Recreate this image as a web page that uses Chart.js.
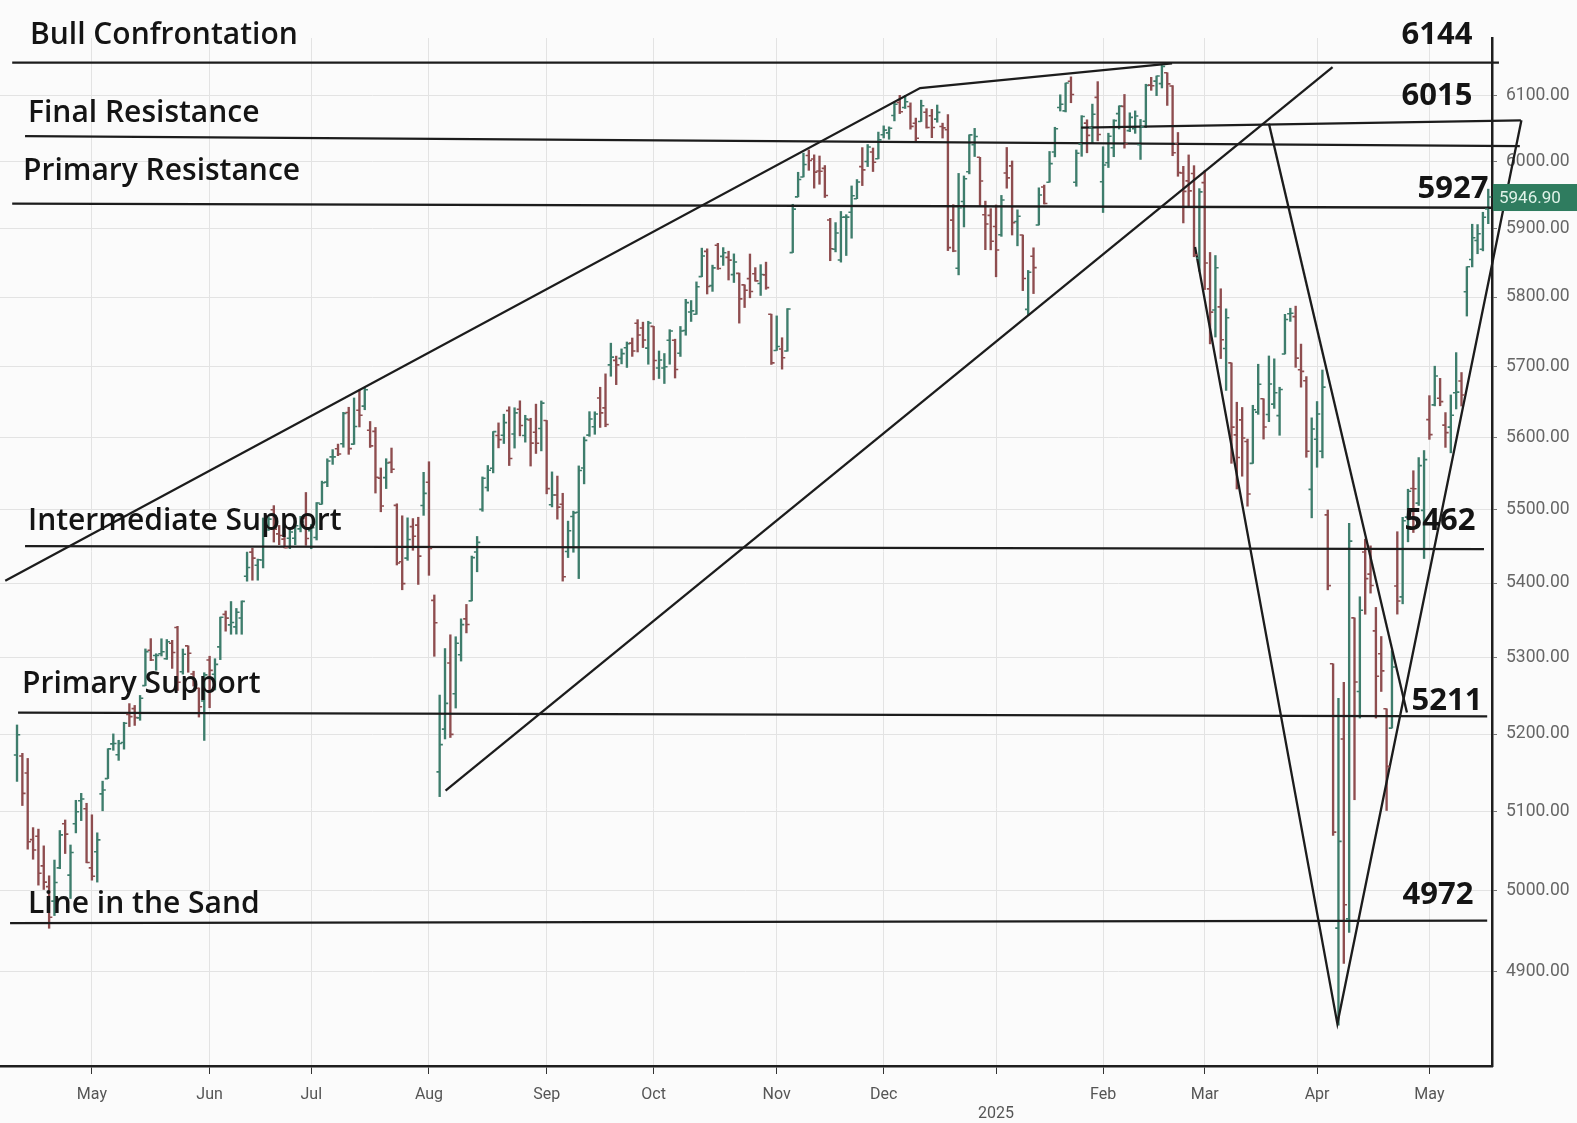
<!DOCTYPE html>
<html>
<head>
<meta charset="utf-8">
<script src="https://cdn.jsdelivr.net/npm/chart.js@4.4.1/dist/chart.umd.min.js"></script>
<style>
  html, body { margin: 0; padding: 0; background: #fbfbfb; }
  canvas { display: block; }
</style>
</head>
<body>
<canvas id="chart" width="1577" height="1123"></canvas>
<script>
// S&P 500 daily bars, 11 Apr 2024 -> 16 May 2025 (one entry per trading day)
const opens = [
  5172.9,5171.5,5149.7,5064.6,5068.9,5031.5,5005.4,4987.3,5028.9,5084.7,5019.9,5084.7,5114.1,5103.8,
  5029.0,5049.3,5122.8,5142.4,5187.2,5173.2,5189.0,5225.5,5233.1,5221.1,5263.3,5310.1,5303.1,5305.4,5298.7,5319.3,5340.3,5281.5,5315.9,5278.7,5259.8,5243.2,
  5297.2,5278.2,5314.5,5357.8,5343.8,5341.2,5353.0,5409.1,5441.9,5424.1,5431.1,5476.1,5499.9,5466.8,5459.6,5460.7,5460.7,5473.6,5488.5,
  5471.1,5461.8,5507.4,5537.9,5572.9,5584.2,5591.3,5635.2,5590.8,5638.2,5644.1,5610.1,5608.6,5543.4,5544.2,5565.3,5505.8,5428.7,5433.7,5476.6,5478.7,5505.6,
  5537.8,5376.6,5151.1,5206.4,5293.1,5252.6,5304.0,5351.9,5376.0,5442.0,5500.3,5530.5,5557.2,5602.9,5603.1,5637.8,5605.0,5639.7,5602.9,5624.5,5607.3,5612.7,
  5623.9,5506.7,5520.1,5507.3,5442.7,5490.5,5496.4,5557.5,5603.3,5615.1,5655.5,5641.7,5702.6,5709.0,5711.9,5727.0,5733.6,5762.2,5755.4,5726.5,
  5757.7,5698.2,5698.2,5737.8,5737.8,5719.1,5751.8,5778.4,5775.1,5829.8,5866.7,5816.6,5875.6,5859.4,5857.8,5832.7,5834.5,5817.8,5826.8,5833.9,5819.7,5832.3,5775.3,
  5723.2,5725.2,5722.4,5864.9,5947.1,5976.8,6008.9,6003.6,5985.8,5989.6,5912.8,5869.8,5854.1,5917.1,5924.4,5944.4,5992.3,6000.0,6014.1,6004.0,
  6040.1,6043.0,6069.4,6089.0,6081.4,6083.0,6057.6,6060.2,6074.3,6068.9,6063.8,6052.6,6047.7,5912.7,5842.0,5940.3,5984.6,6025.0,6006.2,5920.7,5919.7,
  5903.3,5891.1,5982.8,5993.3,5910.7,5890.7,5782.3,5859.6,5905.4,5961.8,5969.0,6014.1,6081.4,6076.3,6121.4,5969.0,6026.0,6057.7,6050.8,6096.8,
  5969.7,5998.1,6020.5,6072.2,6083.1,6046.4,6049.3,6025.1,6060.6,6115.5,6121.6,6117.8,6134.5,6114.1,6026.7,5982.7,5970.9,5981.9,5856.7,
  5968.3,5812.0,5781.4,5785.9,5726.0,5705.4,5603.7,5624.8,5594.5,5563.9,5635.6,5654.5,5632.4,5646.9,5630.7,5718.1,5775.9,5771.7,5695.6,5679.9,5527.9,
  5597.5,5580.8,5492.7,5292.1,4953.8,5193.6,4965.3,5353.2,5255.6,5442.0,5412.0,5335.8,5305.4,5232.9,5207.7,5395.9,5381.4,5489.7,5529.0,5508.9,5499.0,
  5625.1,5645.9,5655.3,5617.4,5614.5,5662.9,5679.6,5807.7,5854.8,5882.6,5869.8,5929.1
];
const highs = [
  5211.8,5175.0,5168.4,5079.8,5077.9,5056.7,5019.0,5038.8,5076.1,5089.5,5057.8,5114.6,5123.5,5110.8,
  5096.1,5073.2,5139.1,5181.0,5200.2,5191.9,5215.3,5239.7,5237.3,5250.4,5311.8,5325.5,5305.4,5325.3,5324.3,5323.2,5341.9,5311.7,5315.9,5282.3,5260.2,5280.3,
  5302.1,5298.8,5354.2,5362.4,5375.1,5365.8,5375.9,5441.9,5447.2,5432.4,5488.5,5490.4,5505.5,5478.3,5490.7,5472.9,5483.1,5490.8,5523.6,
  5479.6,5509.7,5539.3,5570.3,5583.1,5590.8,5635.4,5642.5,5655.6,5666.9,5669.7,5622.5,5614.1,5557.5,5570.4,5585.3,5508.0,5491.5,5488.7,5487.7,5489.5,5551.5,
  5566.2,5383.9,5250.9,5312.3,5330.6,5328.0,5351.9,5371.2,5436.5,5463.2,5545.1,5561.0,5608.3,5620.5,5632.7,5643.2,5641.8,5651.6,5631.2,5627.0,5646.9,5651.4,
  5623.9,5552.1,5546.3,5522.5,5484.2,5497.9,5560.4,5600.7,5636.3,5636.1,5670.8,5689.8,5733.6,5715.1,5725.4,5735.3,5741.0,5767.4,5763.8,5765.1,
  5757.7,5722.4,5718.8,5753.0,5739.3,5757.6,5796.8,5795.0,5822.1,5871.4,5870.4,5846.5,5878.5,5872.2,5866.9,5863.0,5834.9,5817.8,5862.8,5842.9,5847.2,5850.9,5775.3,
  5772.8,5741.4,5783.4,5936.1,5983.8,6012.5,6017.3,6009.9,6008.2,5993.9,5915.3,5909.0,5925.5,5920.7,5963.4,5972.9,6020.8,6025.4,6020.2,6044.2,
  6053.6,6052.1,6089.8,6100.0,6099.9,6088.5,6065.4,6092.6,6079.7,6078.6,6085.2,6057.7,6070.7,5935.5,5982.1,5978.3,6040.1,6049.8,6006.2,5940.8,5929.7,
  5935.1,5949.3,6021.0,6000.7,5927.9,5890.7,5838.8,5871.9,5960.6,5964.7,6015.0,6051.5,6100.8,6118.7,6128.2,6017.2,6069.1,6062.8,6086.6,6120.9,
  6022.1,6042.5,6062.9,6084.0,6101.3,6073.4,6076.3,6063.4,6116.9,6127.5,6129.6,6147.4,6134.5,6114.8,6043.6,5992.7,6009.8,5993.7,5959.4,
  5986.1,5865.1,5860.6,5812.1,5783.0,5705.4,5649.6,5642.2,5597.8,5645.3,5703.5,5654.5,5715.3,5711.2,5670.8,5775.1,5783.9,5786.9,5732.3,5685.9,5627.6,
  5650.6,5695.3,5499.5,5292.1,5246.6,5267.5,5481.3,5353.2,5381.5,5459.5,5450.4,5367.2,5328.3,5232.9,5309.6,5469.7,5489.4,5528.1,5553.7,5572.0,5581.8,
  5658.9,5700.7,5683.4,5635.0,5659.9,5720.1,5691.7,5844.2,5906.6,5906.1,5924.3,5958.6
];
const lows = [
  5138.8,5107.9,5052.5,5039.8,5007.3,5001.9,4953.6,4969.4,5027.9,5047.0,4990.6,5073.1,5088.7,5035.3,
  5013.5,5011.1,5101.2,5142.4,5178.9,5165.9,5180.4,5209.7,5211.2,5217.9,5263.3,5296.2,5283.6,5302.4,5297.9,5286.0,5256.9,5278.4,5280.9,5262.7,5222.1,5191.7,
  5234.3,5257.6,5297.6,5335.4,5331.3,5331.5,5331.3,5402.5,5403.8,5403.8,5420.4,5471.3,5455.6,5452.0,5447.6,5446.6,5451.9,5469.5,5451.1,
  5446.5,5458.4,5507.4,5531.6,5562.5,5574.6,5586.4,5576.5,5590.4,5614.8,5639.0,5586.1,5522.8,5497.0,5529.0,5550.9,5424.4,5390.9,5430.7,5444.4,5398.1,5492.1,
  5410.4,5302.0,5119.3,5193.6,5195.5,5233.9,5295.7,5333.1,5376.0,5415.2,5497.7,5525.5,5550.7,5585.5,5591.6,5560.9,5585.2,5602.3,5593.5,5560.2,5577.7,5581.3,
  5521.7,5503.7,5486.9,5402.6,5434.5,5441.7,5406.0,5535.5,5601.6,5604.5,5614.1,5615.1,5686.4,5674.5,5704.0,5698.9,5714.7,5721.0,5727.3,5703.5,
  5681.3,5683.2,5676.1,5703.5,5683.9,5714.6,5745.0,5764.8,5775.1,5829.6,5804.5,5808.3,5840.3,5846.1,5824.8,5821.2,5762.4,5784.9,5799.0,5823.1,5802.4,5811.3,5703.2,
  5723.2,5696.5,5722.1,5864.9,5947.1,5976.8,5986.7,5960.1,5965.9,5946.2,5853.0,5865.9,5850.9,5860.6,5886.0,5944.4,5963.9,5992.3,5984.9,6004.0,
  6035.3,6033.4,6061.1,6072.2,6080.0,6048.6,6029.9,6060.2,6050.2,6035.8,6059.1,6035.2,5867.8,5866.1,5832.3,5902.6,5981.4,6007.4,5933.0,5869.2,5868.9,
  5829.5,5888.7,5960.0,5890.7,5874.8,5809.4,5773.3,5805.1,5905.4,5936.5,5969.0,6006.9,6076.1,6074.7,6088.7,5962.9,6007.7,6013.0,6027.9,6030.9,
  5923.9,5990.9,6007.1,6048.9,6020.0,6044.8,6042.3,6003.0,6051.0,6107.6,6099.5,6111.2,6084.6,6008.6,5977.8,5908.5,5932.7,5858.8,5837.7,
  5810.9,5732.6,5742.4,5711.6,5666.3,5564.0,5528.4,5546.1,5504.7,5563.9,5632.5,5597.8,5622.2,5640.9,5603.1,5718.1,5764.9,5699.1,5670.9,5572.4,5488.7,
  5558.5,5571.5,5390.8,5069.9,4835.0,4910.4,4948.4,5115.3,5220.8,5358.0,5386.4,5220.8,5255.6,5101.6,5207.7,5358.2,5372.0,5455.9,5468.6,5505.7,5433.2,
  5597.4,5644.4,5644.6,5586.2,5578.6,5640.1,5644.2,5772.6,5843.9,5863.2,5867.4,5907.4
];
const closes = [
  5199.1,5123.4,5061.8,5051.4,5022.2,5011.1,4967.2,5010.6,5070.6,5071.6,5048.4,5100.0,5116.2,5035.7,
  5018.4,5064.2,5127.8,5180.7,5187.7,5187.7,5214.1,5222.7,5221.4,5246.7,5308.2,5297.1,5303.3,5308.1,5321.4,5307.0,5267.8,5304.7,5306.0,5266.9,5235.5,5277.5,
  5283.4,5291.3,5354.0,5352.9,5346.9,5360.8,5375.3,5421.0,5433.7,5431.6,5473.2,5487.0,5473.2,5464.6,5447.9,5469.3,5477.9,5482.9,5460.5,
  5475.1,5509.0,5537.0,5567.2,5572.9,5576.9,5633.9,5584.5,5615.4,5631.2,5667.2,5588.3,5544.6,5505.0,5564.4,5555.7,5427.1,5399.2,5459.1,5463.5,5436.4,5522.3,
  5446.7,5346.6,5186.3,5240.0,5199.5,5319.3,5344.2,5344.4,5434.4,5455.2,5543.2,5554.3,5608.3,5597.1,5620.9,5570.6,5634.6,5616.8,5625.8,5592.2,5591.9,5648.4,
  5528.9,5520.1,5503.4,5408.4,5471.1,5495.5,5554.1,5596.0,5626.0,5633.1,5634.6,5618.3,5713.6,5702.6,5718.6,5732.9,5722.3,5745.4,5738.2,5762.5,
  5708.8,5709.5,5699.9,5751.1,5695.9,5751.1,5792.0,5780.1,5815.0,5859.9,5815.3,5842.5,5841.5,5864.7,5853.9,5851.2,5797.4,5809.9,5808.1,5823.5,5832.9,5813.7,5705.5,
  5728.8,5712.7,5782.8,5929.0,5973.1,5995.5,6001.4,5984.0,5985.4,5949.2,5870.6,5893.6,5917.0,5917.1,5948.7,5969.3,5987.4,6021.6,5998.7,6032.4,
  6047.2,6049.9,6086.5,6075.1,6090.3,6052.9,6034.9,6084.2,6051.1,6051.1,6074.1,6050.6,5872.2,5867.1,5930.9,5974.1,6040.0,6037.6,5970.8,5906.9,5881.6,
  5868.6,5942.5,5975.4,5909.0,5918.3,5827.0,5836.2,5842.9,5949.9,5937.3,5996.7,6049.2,6086.4,6118.7,6101.2,6012.3,6067.7,6039.3,6071.2,6040.5,
  5994.6,6037.9,6061.5,6083.6,6026.0,6066.4,6068.5,6052.0,6115.1,6114.6,6129.6,6144.2,6117.5,6013.1,5983.3,5955.3,5956.1,5861.6,5954.5,
  5849.7,5778.2,5842.6,5738.5,5770.2,5614.6,5572.1,5599.3,5521.5,5638.9,5675.1,5614.7,5675.3,5662.9,5667.6,5767.6,5776.7,5712.2,5693.3,5580.9,5611.9,
  5633.1,5671.0,5396.5,5074.1,5062.3,4982.8,5456.9,5268.1,5363.4,5406.0,5396.6,5275.7,5282.7,5158.2,5287.8,5375.9,5484.8,5525.2,5528.8,5560.8,5569.1,
  5604.1,5686.7,5650.4,5606.9,5631.3,5663.9,5659.9,5844.2,5886.6,5892.6,5916.9,5946.9
];

// first trading day of each month (bar index) and the axis labels
const monthStarts = [14, 36, 55, 77, 99, 119, 142, 162, 183, 203, 222, 243, 264];
const monthLabels = ['May', 'Jun', 'Jul', 'Aug', 'Sep', 'Oct', 'Nov', 'Dec', '2025', 'Feb', 'Mar', 'Apr', 'May'];
const priceTicks = [4900, 5000, 5100, 5200, 5300, 5400, 5500, 5600, 5700, 5800, 5900, 6000, 6100];

// hand-marked levels
const levelNames = ['Bull Confrontation', 'Final Resistance', 'Primary Resistance', 'Intermediate Support', 'Primary Support', 'Line in the Sand'];
const levelValues = [6144, 6015, 5927, 5462, 5211, 4972];

// pen lines as [bar index, price]
const bullLine = [[-0.9, 6150], [277.0, 6150]];
const finalResLine = [[1.5, 6038], [280.9, 6023]];
const topRightLine = [[198.9, 6051], [281.1, 6062]];
const primResLine = [[-0.9, 5937], [277.0, 5931]];
const interSupLine = [[1.5, 5450], [274.2, 5446]];
const primSupLine = [[0.2, 5228], [274.8, 5223]];
const sandLine = [[-1.3, 4960], [274.8, 4963]];
const wedgeTop = [[-2.2, 5403], [168.8, 6111], [215.9, 6149]];
const wedgeBottom = [[80.1, 5127], [245.9, 6143]];
const vShape = [[220.2, 5873], [246.8, 4837], [281.2, 6062]];
const fallLine = [[234.0, 6057], [259.8, 5228]];

const UP = '#3e7d6c';
const DOWN = '#8e4d4f';
const PEN = '#1c1c1c';

// label placement (pixels relative to each level)
const nameX = [30, 28, 23, 28, 22, 28];
const nameDy = [-31, -38, -39, -16, -41, -9];
const numX = [1437, 1437, 1453, 1440, 1447, 1438];
const numDy = [-31, -55, -21, -16, -24, -18];

Chart.defaults.font.family = 'Roboto, "DejaVu Sans", sans-serif';

const penLine = (pts) => ({
  type: 'line',
  data: pts.map(p => ({ x: p[0], y: p[1] })),
  borderColor: PEN,
  borderWidth: 2.3,
  pointRadius: 0,
  tension: 0,
  clip: false,
  order: 1
});

const ohlcTicks = {
  id: 'ohlcTicks',
  afterDatasetsDraw(chart) {
    const { ctx, scales: { x, y } } = chart;
    ctx.save();
    ctx.lineWidth = 1.6;
    closes.forEach((c, i) => {
      const px = x.getPixelForValue(i);
      const po = y.getPixelForValue(opens[i]);
      const pc = y.getPixelForValue(c);
      ctx.strokeStyle = c >= opens[i] ? UP : DOWN;
      ctx.beginPath();
      ctx.moveTo(px - 3.2, po); ctx.lineTo(px, po);
      ctx.moveTo(px, pc); ctx.lineTo(px + 3.2, pc);
      ctx.stroke();
    });
    ctx.restore();
  }
};

const annotate = {
  id: 'annotate',
  afterDraw(chart) {
    const { ctx, scales: { y }, chartArea } = chart;
    ctx.save();
    ctx.fillStyle = '#141414';
    ctx.textBaseline = 'middle';
    ctx.textAlign = 'left';
    ctx.font = '600 30px "Open Sans"';
    levelNames.forEach((name, i) => {
      ctx.fillText(name, nameX[i], y.getPixelForValue(levelValues[i]) + nameDy[i]);
    });
    ctx.font = '700 31px "Open Sans"';
    ctx.textAlign = 'center';
    levelValues.forEach((v, i) => {
      ctx.fillText(String(v), numX[i], y.getPixelForValue(v) + numDy[i]);
    });
    // last price tag
    const last = closes[closes.length - 1];
    const py = y.getPixelForValue(last);
    ctx.fillStyle = '#2f7c5f';
    ctx.fillRect(chartArea.right + 1, py - 13, 90, 27);
    ctx.fillStyle = '#dff2e8';
    ctx.font = '17px Roboto';
    ctx.textAlign = 'left';
    ctx.fillText(last.toFixed(2), chartArea.right + 7, py + 1.5);
    ctx.restore();
  }
};

new Chart(document.getElementById('chart'), {
  type: 'bar',
  data: {
    datasets: [
      {
        type: 'bar',
        data: highs.map((h, i) => ({ x: i, y: [lows[i], h] })),
        backgroundColor: closes.map((c, i) => c >= opens[i] ? UP : DOWN),
        barThickness: 1.7,
        grouped: false,
        order: 2
      },
      penLine(bullLine),
      penLine(finalResLine),
      penLine(topRightLine),
      penLine(primResLine),
      penLine(interSupLine),
      penLine(primSupLine),
      penLine(sandLine),
      penLine(wedgeTop),
      penLine(wedgeBottom),
      penLine(vShape),
      penLine(fallLine)
    ]
  },
  options: {
    responsive: false,
    devicePixelRatio: 1,
    animation: false,
    layout: { padding: { top: 38, left: 0, right: 0, bottom: 0 } },
    plugins: { legend: { display: false }, tooltip: { enabled: false } },
    scales: {
      x: {
        type: 'linear',
        min: -3.18,
        max: 275.7,
        offset: false,
        afterBuildTicks: s => { s.ticks = monthStarts.map(v => ({ value: v })); },
        afterFit: s => { s.height = 57; },
        grid: { color: '#e3e3e3', offset: false, tickColor: '#333', tickLength: 8, lineWidth: 1 },
        border: { display: true, color: '#1e1e1e', width: 2.5 },
        ticks: {
          autoSkip: false,
          maxRotation: 0,
          padding: 11,
          color: '#555',
          font: { size: 16 },
          callback: v => {
            const lab = monthLabels[monthStarts.indexOf(v)];
            return lab === '2025' ? ['', lab] : lab;
          }
        }
      },
      y: {
        type: 'logarithmic',
        position: 'right',
        min: 4786,
        max: 6188,
        afterBuildTicks: s => { s.ticks = priceTicks.map(v => ({ value: v })); },
        afterFit: s => { s.width = 85; },
        grid: { color: '#e3e3e3', tickColor: '#777', tickLength: 5, lineWidth: 1 },
        border: { display: true, color: '#1e1e1e', width: 2.5 },
        ticks: {
          padding: 9,
          color: '#666',
          font: { size: 17.5 },
          callback: v => Number(v).toFixed(2)
        }
      }
    }
  },
  plugins: [ohlcTicks, annotate]
});
</script>
</body>
</html>
